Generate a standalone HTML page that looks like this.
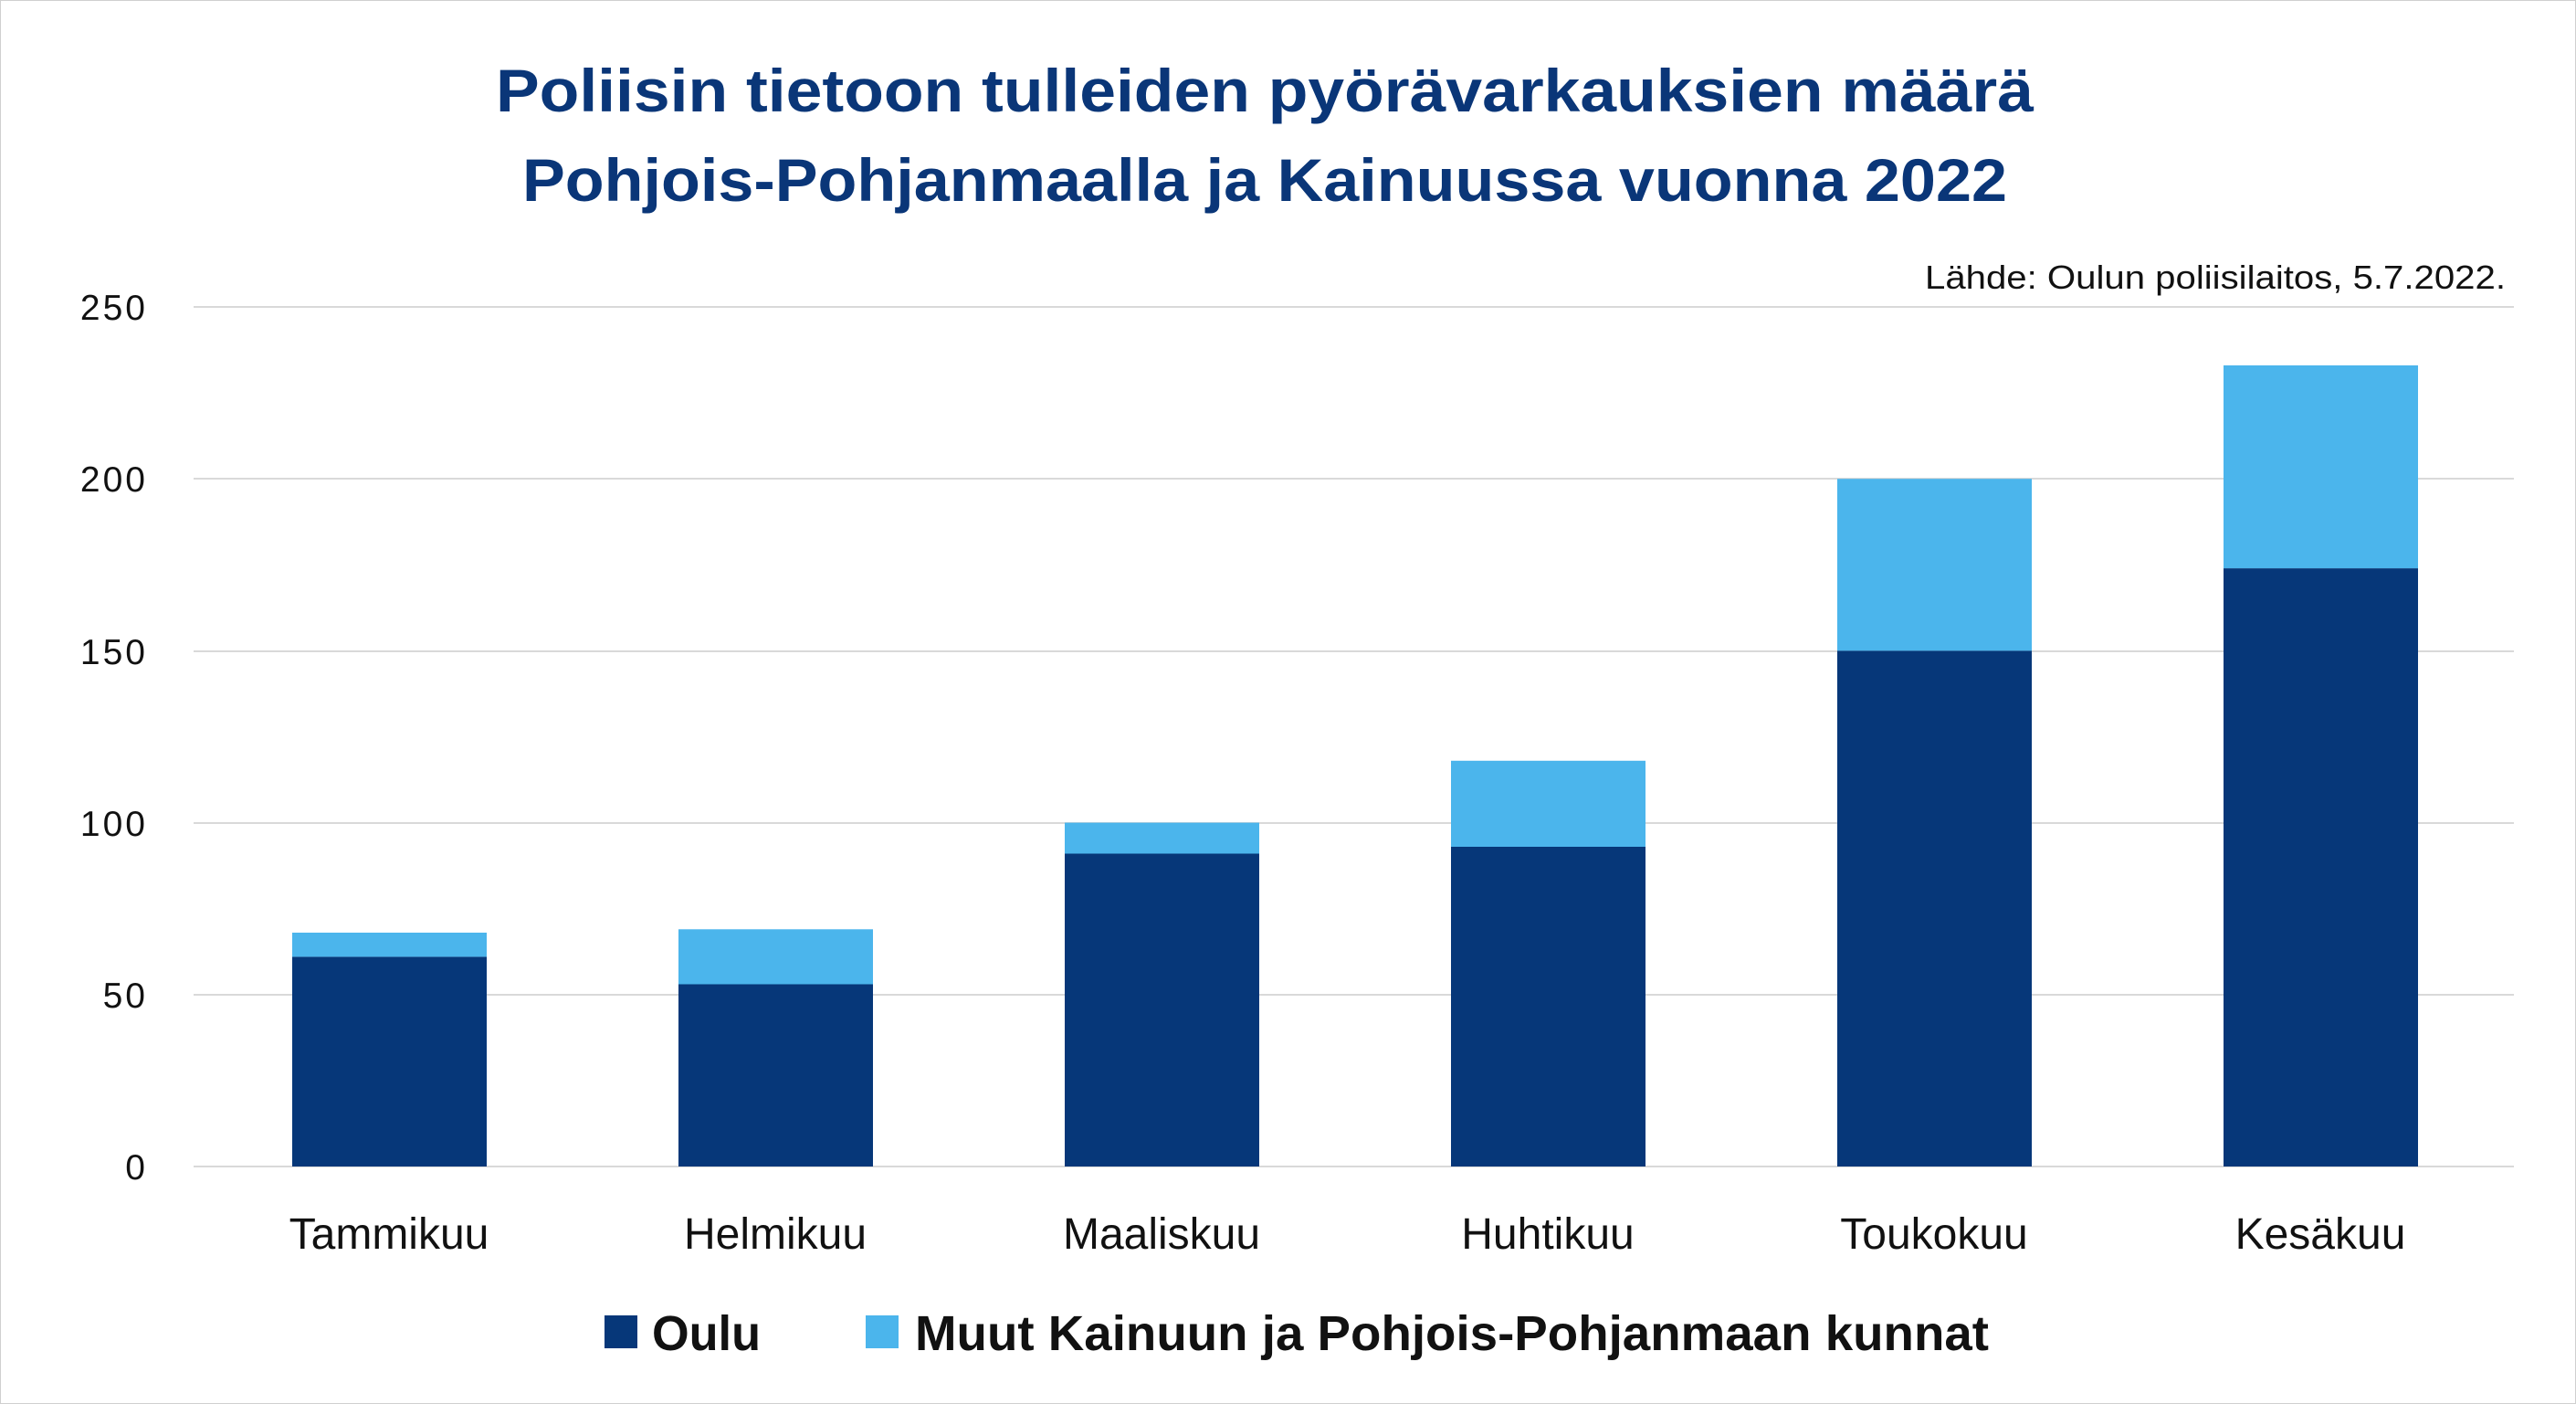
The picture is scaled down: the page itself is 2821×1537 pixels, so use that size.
<!DOCTYPE html>
<html><head><meta charset="utf-8"><style>html,body{margin:0;padding:0;background:#fff}svg{display:block}</style></head>
<body>
<svg width="2821" height="1537" viewBox="0 0 2821 1537" xmlns="http://www.w3.org/2000/svg" font-family="Liberation Sans, DejaVu Sans, sans-serif">
<rect x="0.5" y="0.5" width="2820" height="1536" fill="#fff" stroke="#d0d0d0"/>
<text x="1385" y="122" font-size="66" font-weight="bold" fill="#0a3678" text-anchor="middle" textLength="1684" lengthAdjust="spacingAndGlyphs">Poliisin tietoon tulleiden pyörävarkauksien määrä</text>
<text x="1385" y="220" font-size="66" font-weight="bold" fill="#0a3678" text-anchor="middle" textLength="1626" lengthAdjust="spacingAndGlyphs">Pohjois-Pohjanmaalla ja Kainuussa vuonna 2022</text>
<text x="2744" y="316" font-size="36" fill="#111" text-anchor="end" textLength="636" lengthAdjust="spacingAndGlyphs">Lähde: Oulun poliisilaitos, 5.7.2022.</text>
<g stroke="#d9d9d9" stroke-width="2">
<line x1="212" x2="2753" y1="336" y2="336"/>
<line x1="212" x2="2753" y1="524" y2="524"/>
<line x1="212" x2="2753" y1="713" y2="713"/>
<line x1="212" x2="2753" y1="901" y2="901"/>
<line x1="212" x2="2753" y1="1089" y2="1089"/>
<line x1="212" x2="2753" y1="1277" y2="1277"/>
</g>
<g font-size="39" fill="#111" text-anchor="end" letter-spacing="3">
<text x="162" y="350">250</text>
<text x="162" y="538">200</text>
<text x="162" y="727">150</text>
<text x="162" y="915">100</text>
<text x="162" y="1103">50</text>
<text x="162" y="1291">0</text>
</g>
<g>
<rect x="320" y="1047.4" width="213" height="229.6" fill="#063779"/>
<rect x="320" y="1021" width="213" height="26.4" fill="#4bb5ec"/>
<rect x="743" y="1077.5" width="213" height="199.5" fill="#063779"/>
<rect x="743" y="1017.3" width="213" height="60.2" fill="#4bb5ec"/>
<rect x="1166" y="934.5" width="213" height="342.5" fill="#063779"/>
<rect x="1166" y="900.6" width="213" height="33.9" fill="#4bb5ec"/>
<rect x="1589" y="927" width="213" height="350" fill="#063779"/>
<rect x="1589" y="832.8" width="213" height="94.2" fill="#4bb5ec"/>
<rect x="2012" y="712.4" width="213" height="564.6" fill="#063779"/>
<rect x="2012" y="524.2" width="213" height="188.2" fill="#4bb5ec"/>
<rect x="2435" y="622.1" width="213" height="654.9" fill="#063779"/>
<rect x="2435" y="400" width="213" height="222.1" fill="#4bb5ec"/>
</g>
<g font-size="48" fill="#111" text-anchor="middle">
<text x="426" y="1367">Tammikuu</text>
<text x="849" y="1367">Helmikuu</text>
<text x="1272" y="1367">Maaliskuu</text>
<text x="1695" y="1367">Huhtikuu</text>
<text x="2118" y="1367">Toukokuu</text>
<text x="2541" y="1367">Kesäkuu</text>
</g>
<rect x="662" y="1440" width="36" height="36" fill="#063779"/>
<text x="714" y="1478" font-size="54" font-weight="bold" fill="#111" textLength="119" lengthAdjust="spacingAndGlyphs">Oulu</text>
<rect x="948" y="1440" width="36" height="36" fill="#4bb5ec"/>
<text x="1002" y="1478" font-size="54" font-weight="bold" fill="#111" textLength="1176" lengthAdjust="spacingAndGlyphs">Muut Kainuun ja Pohjois-Pohjanmaan kunnat</text>
</svg>
</body></html>
